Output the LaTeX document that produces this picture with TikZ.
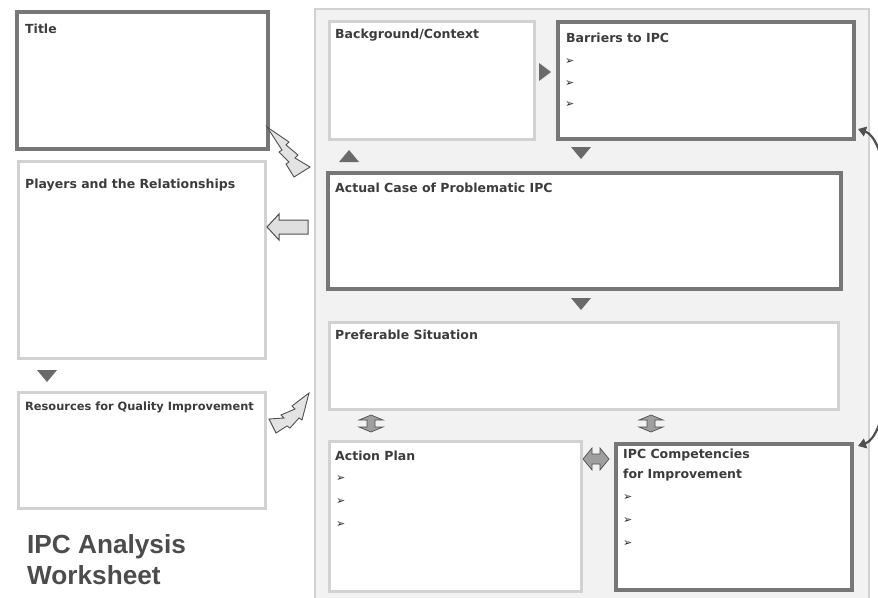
\documentclass[tikz,border=0pt]{standalone}
\usepackage{fontspec}
\setmainfont{DejaVu Sans}
\newfontfamily\arialb{Liberation Sans}
\usetikzlibrary{arrows.meta,shapes.geometric}
\definecolor{dk}{HTML}{777777}
\definecolor{lt}{HTML}{D2D2D2}
\definecolor{txt}{HTML}{3C3C3C}
\definecolor{panelc}{HTML}{F2F2F2}
\definecolor{tric}{HTML}{6A6A6A}
\definecolor{outl}{HTML}{505050}
\begin{document}
\begin{tikzpicture}[x=1pt,y=-1pt,
  darkbox/.style={draw=dk, line width=4pt, fill=white, anchor=north west, inner sep=0pt},
  lightbox/.style={draw=lt, line width=2.5pt, fill=white, anchor=north west, inner sep=0pt},
  lbl/.style={anchor=base west, inner sep=0pt, text=txt, font=\fontsize{12.5}{14}\selectfont\bfseries},
  slbl/.style={anchor=base west, inner sep=0pt, text=txt, font=\fontsize{11.4}{13}\selectfont\bfseries},
  bul/.style={anchor=base west, inner sep=0pt, text=black!85, font=\fontsize{11}{12}\selectfont},
  trif/.style={fill=tric, draw=none},
  dblarrow/.style={fill=gray!75, draw=outl, line width=0.7pt, line join=miter},
  bolt/.style={fill=gray!22, draw=outl, line width=0.9pt, line join=miter},
  bigarrow/.style={fill=gray!25, draw=outl, line width=1pt, line join=miter}]
\useasboundingbox (0,0) rectangle (878,597);
\clip (0,0) rectangle (878,597);
\fill[white] (0,0) rectangle (878,597);

% panel
\node[draw=lt, fill=panelc, line width=1.5pt, anchor=north west, minimum width=554pt, minimum height=620pt, inner sep=0pt] (panel) at (314,8) {};

% boxes
\node[darkbox, minimum width=251pt, minimum height=137pt] (title) at (15,10) {};
\node[lightbox, minimum width=247pt, minimum height=197pt] (players) at (17,160) {};
\node[lightbox, minimum width=247pt, minimum height=116pt] (resources) at (17,391) {};
\node[lightbox, minimum width=205pt, minimum height=118pt] (bg) at (328,20) {};
\node[darkbox, minimum width=296pt, minimum height=117pt] (barriers) at (556,20) {};
\node[darkbox, minimum width=513pt, minimum height=116pt] (actual) at (326,171) {};
\node[lightbox, minimum width=509pt, minimum height=87pt] (pref) at (328,321) {};
\node[lightbox, minimum width=252pt, minimum height=150pt] (action) at (328,440) {};
\node[darkbox, minimum width=236pt, minimum height=146pt] (comp) at (614,442) {};

% labels
\node[lbl] (tTitle) at (25,33) {Title};
\node[lbl] (tBg) at (335,38) {Background/Context};
\node[lbl] (tBar) at (566,42) {Barriers to IPC};
\node[lbl] (tPl) at (25,188) {Players and the Relationships};
\node[lbl] (tAc) at (335,192) {Actual Case of Problematic IPC};
\node[lbl] (tPr) at (335,339) {Preferable Situation};
\node[slbl] (tRe) at (25,410) {Resources for Quality Improvement};
\node[lbl] (tAp) at (335,460) {Action Plan};
\node[lbl] (tCo1) at (623,458) {IPC Competencies};
\node[lbl] (tCo2) at (623,478) {for Improvement};

% bullets
\foreach \y [count=\i] in {64,86,107}{\node[bul] (bb\i) at (565,\y) {➢};}
\foreach \y [count=\i] in {481,504,527}{\node[bul] (ba\i) at (336,\y) {➢};}
\foreach \y [count=\i] in {500,523,546}{\node[bul] (bc\i) at (623,\y) {➢};}

% worksheet title
\node[anchor=base west, inner sep=0pt, text=gray!60!black, font=\arialb\bfseries\fontsize{26.2}{30}\selectfont] (ws1) at (27,553) {IPC Analysis};
\node[anchor=base west, inner sep=0pt, text=gray!60!black, font=\arialb\bfseries\fontsize{26.2}{30}\selectfont] (ws2) at (27,584) {Worksheet};

% triangles
\fill[trif] (37,370) -- (57,370) -- (47,382) -- cycle;
\fill[trif] (539,63) -- (539,81) -- (551,72) -- cycle;
\fill[trif] (339,162) -- (359,162) -- (349,150) -- cycle;
\fill[trif] (571,147) -- (591,147) -- (581,159) -- cycle;
\fill[trif] (571,298) -- (591,298) -- (581,310) -- cycle;

% double vertical arrows
\foreach \cx in {371,651}{
  \draw[dblarrow] (\cx,415) -- (\cx+12,420) -- (\cx+4,420) -- (\cx+4,427) -- (\cx+12,427) -- (\cx,432)
   -- (\cx-12,427) -- (\cx-4,427) -- (\cx-4,420) -- (\cx-12,420) -- cycle;
}
% double horizontal arrow
\draw[dblarrow] (583,459) -- (592,448) -- (592,454) -- (600,454) -- (600,448) -- (609,459)
  -- (600,470) -- (600,464) -- (592,464) -- (592,470) -- cycle;

% left block arrow
\draw[bigarrow] (267,227) -- (279,214) -- (279,220) -- (308,220) -- (308,234) -- (279,234) -- (279,240) -- cycle;

% lightning bolts
\draw[bolt] (267,127) -- (289,142) -- (286,145) -- (298,155) -- (295,158) -- (310,167)
  -- (294,177) -- (286,164) -- (289,162) -- (279,152) -- (282,150) -- cycle;
\draw[bolt] (309,393) -- (292,406) -- (295,409) -- (281,415) -- (284,418) -- (269,419)
  -- (276,433) -- (287,426) -- (290,428) -- (299,418) -- (302,420) -- cycle;

% curved arrow
\coordinate (c1) at (858,129);
\coordinate (c2) at (858,446);
\draw[outl, line width=2.2pt, {Triangle[length=8pt,width=10pt]}-{Triangle[length=8pt,width=10pt]}]
  (c1) .. controls (905,145) and (905,430) .. (c2);
\end{tikzpicture}
\end{document}
